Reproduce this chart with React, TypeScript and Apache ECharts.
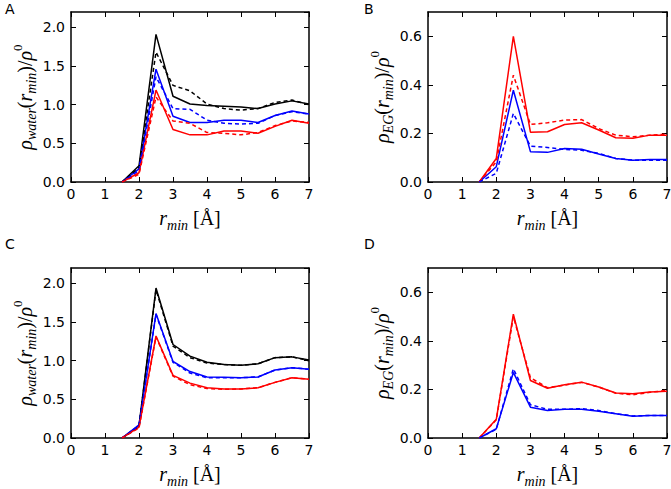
import React, { useEffect, useRef } from "react";
import * as echarts from "echarts";

const X = [1.5, 2, 2.5, 3, 3.5, 4, 4.5, 5, 5.5, 6, 6.5, 7];
const xTicks = ["0", "1", "2", "3", "4", "5", "6", "7"];

const aBlackSolid = [0, 0.21, 1.91, 1.11, 1.01, 0.99, 0.98, 0.97, 0.95, 1.01, 1.05, 1.01];
const aBlackDash = [0, 0.19, 1.68, 1.25, 1.18, 1.01, 0.95, 0.93, 0.95, 1.03, 1.06, 1.0];
const aBlueSolid = [0, 0.17, 1.46, 0.85, 0.77, 0.77, 0.8, 0.8, 0.77, 0.86, 0.92, 0.88];
const aBlueDash = [0, 0.15, 1.36, 0.95, 0.94, 0.8, 0.76, 0.75, 0.76, 0.86, 0.91, 0.88];
const aRedSolid = [0, 0.12, 1.19, 0.68, 0.61, 0.61, 0.66, 0.66, 0.63, 0.72, 0.8, 0.76];
const aRedDash = [0, 0.1, 1.1, 0.79, 0.76, 0.64, 0.63, 0.61, 0.64, 0.73, 0.79, 0.77];

const bRedSolid = [0, 0.097, 0.6, 0.205, 0.207, 0.237, 0.244, 0.214, 0.182, 0.18, 0.193, 0.193];
const bRedDash = [0, 0.083, 0.44, 0.237, 0.244, 0.255, 0.257, 0.22, 0.193, 0.186, 0.193, 0.197];
const bBlueSolid = [0, 0.063, 0.378, 0.125, 0.122, 0.138, 0.135, 0.115, 0.097, 0.09, 0.093, 0.093];
const bBlueDash = [0, 0.036, 0.282, 0.148, 0.142, 0.134, 0.131, 0.118, 0.097, 0.09, 0.09, 0.09];

const cBlackSolid = [0, 0.16, 1.94, 1.21, 1.06, 0.98, 0.95, 0.94, 0.96, 1.04, 1.05, 1.01];
const cBlackDash = [0, 0.15, 1.92, 1.19, 1.04, 0.97, 0.95, 0.94, 0.96, 1.04, 1.05, 1.0];
const cBlueSolid = [0, 0.17, 1.61, 0.99, 0.86, 0.79, 0.785, 0.78, 0.79, 0.88, 0.91, 0.89];
const cBlueDash = [0, 0.16, 1.6, 0.98, 0.84, 0.78, 0.78, 0.78, 0.79, 0.88, 0.91, 0.89];
const cRedSolid = [0, 0.14, 1.32, 0.81, 0.71, 0.65, 0.635, 0.635, 0.65, 0.72, 0.78, 0.76];
const cRedDash = [0, 0.13, 1.31, 0.8, 0.69, 0.64, 0.63, 0.635, 0.65, 0.72, 0.78, 0.76];

const dRedSolid = [0, 0.077, 0.51, 0.237, 0.205, 0.219, 0.23, 0.21, 0.185, 0.182, 0.189, 0.193];
const dRedDash = [0, 0.075, 0.5, 0.248, 0.207, 0.218, 0.229, 0.21, 0.184, 0.178, 0.188, 0.196];
const dBlueSolid = [0, 0.038, 0.27, 0.127, 0.113, 0.118, 0.118, 0.11, 0.1, 0.09, 0.093, 0.093];
const dBlueDash = [0, 0.036, 0.285, 0.137, 0.118, 0.118, 0.121, 0.113, 0.1, 0.091, 0.093, 0.093];

const panelLabels = ["A", "B", "C", "D"];

const BLACK = "#000000";
const BLUE = "#0000ff";
const RED = "#ff0000";

const SERIF = "'Liberation Serif', 'DejaVu Serif', serif";
const SANS = "'DejaVu Sans', sans-serif";

const mathRich = {
  i: { fontFamily: SERIF, fontStyle: "italic", fontSize: 20, lineHeight: 28, verticalAlign: "middle", color: "#000" },
  u: { fontFamily: SERIF, fontSize: 20, lineHeight: 28, verticalAlign: "middle", color: "#000" },
  s: { fontFamily: SERIF, fontStyle: "italic", fontSize: 14, lineHeight: 14, verticalAlign: "bottom", color: "#000" },
  p: { fontFamily: SERIF, fontSize: 13, lineHeight: 13, verticalAlign: "top", color: "#000" },
};

const yNameWater = "{i|ρ}{s|water}{u|(}{i|r}{s|min}{u|)/}{i|ρ}{p|0}";
const yNameEG = "{i|ρ}{s|EG}{u|(}{i|r}{s|min}{u|)/}{i|ρ}{p|0}";
const xName = "{i|r}{s|min}{u| [Å]}";

export default function App() {
  const ref = useRef<HTMLDivElement>(null);
  useEffect(() => {
    if (!ref.current) return;
    const chart = echarts.init(ref.current, null, { renderer: "svg" });

    const grids = [
      { left: 71, top: 12, width: 238, height: 170, outerBoundsMode: "none", containLabel: false },
      { left: 428, top: 12, width: 239, height: 170, outerBoundsMode: "none", containLabel: false },
      { left: 71, top: 268, width: 238, height: 170, outerBoundsMode: "none", containLabel: false },
      { left: 428, top: 268, width: 239, height: 170, outerBoundsMode: "none", containLabel: false },
    ];
    const yMax = [2.2, 0.7, 2.2, 0.7];
    const yInt = [0.5, 0.2, 0.5, 0.2];
    const yNames = [yNameWater, yNameEG, yNameWater, yNameEG];

    const tick = { show: true, inside: true, length: 5, lineStyle: { color: "#000", width: 1 } };
    const line = { show: true, onZero: false, lineStyle: { color: "#000", width: 1.5 } };
    const lbl = { color: "#000", fontFamily: SANS, fontSize: 14 };

    const xAxis: any[] = [];
    const yAxis: any[] = [];
    grids.forEach((_, gi) => {
      xAxis.push({
        type: "value", gridIndex: gi, min: 0, max: 7, interval: 1, position: "bottom",
        axisLine: line, axisTick: tick, splitLine: { show: false },
        axisLabel: { ...lbl, margin: 5, formatter: (v: number) => xTicks[Math.round(v)] ?? "" },
        name: xName, nameLocation: "middle", nameGap: 22,
        nameTextStyle: { rich: mathRich },
      });
      xAxis.push({
        type: "value", gridIndex: gi, min: 0, max: 7, interval: 1, position: "top",
        axisLine: line, axisTick: tick, splitLine: { show: false }, axisLabel: { show: false },
      });
      yAxis.push({
        type: "value", gridIndex: gi, min: 0, max: yMax[gi], interval: yInt[gi], position: "left",
        axisLine: line, axisTick: tick, splitLine: { show: false },
        axisLabel: { ...lbl, margin: 6, showMaxLabel: false, formatter: (v: number) => v.toFixed(1) },
        name: yNames[gi], nameLocation: "middle", nameRotate: 90, nameGap: gi % 2 === 0 ? 28 : 32,
        nameTextStyle: { rich: mathRich },
      });
      yAxis.push({
        type: "value", gridIndex: gi, min: 0, max: yMax[gi], interval: yInt[gi], position: "right",
        axisLine: line, axisTick: tick, splitLine: { show: false }, axisLabel: { show: false },
      });
    });

    const mk = (gi: number, ys: number[], color: string, dashed: boolean) => ({
      type: "line",
      xAxisIndex: gi * 2,
      yAxisIndex: gi * 2,
      data: X.map((x, k) => [x, ys[k]]),
      symbol: "none",
      lineStyle: { color, width: 1.5, type: dashed ? [4, 3] : "solid" },
      z: dashed ? 3 : 2,
    });

    const series = [
      mk(0, aBlackSolid, BLACK, false), mk(0, aBlackDash, BLACK, true),
      mk(0, aBlueSolid, BLUE, false), mk(0, aBlueDash, BLUE, true),
      mk(0, aRedSolid, RED, false), mk(0, aRedDash, RED, true),
      mk(1, bRedSolid, RED, false), mk(1, bRedDash, RED, true),
      mk(1, bBlueSolid, BLUE, false), mk(1, bBlueDash, BLUE, true),
      mk(2, cBlackSolid, BLACK, false), mk(2, cBlackDash, BLACK, true),
      mk(2, cBlueSolid, BLUE, false), mk(2, cBlueDash, BLUE, true),
      mk(2, cRedSolid, RED, false), mk(2, cRedDash, RED, true),
      mk(3, dRedSolid, RED, false), mk(3, dRedDash, RED, true),
      mk(3, dBlueSolid, BLUE, false), mk(3, dBlueDash, BLUE, true),
    ];

    const labelPos = [[5, 2], [364, 2], [5, 237], [364, 237]];
    const graphic = panelLabels.map((t, k) => ({
      type: "text", left: labelPos[k][0], top: labelPos[k][1],
      style: { text: t, fill: "#000", font: `14px ${SANS}` },
    }));

    chart.setOption({
      animation: false,
      backgroundColor: "#ffffff",
      grid: grids,
      xAxis, yAxis, series, graphic,
    });
    return () => chart.dispose();
  }, []);
  return (
    <div style={{ position: "fixed", left: 0, top: 0, width: 671, height: 489, background: "#fff" }}>
      <div ref={ref} style={{ width: 671, height: 489 }} />
    </div>
  );
}
